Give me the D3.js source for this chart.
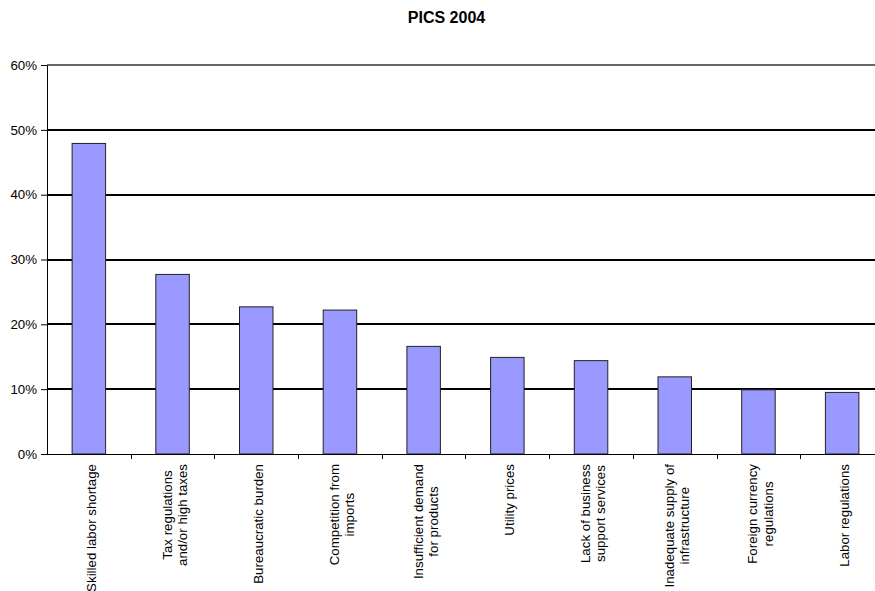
<!DOCTYPE html>
<html>
<head>
<meta charset="utf-8">
<script src="https://cdn.jsdelivr.net/npm/d3@7"></script>
<style>
  html, body { margin: 0; padding: 0; background: #fff; }
  svg { display: block; font-family: Arial, "Liberation Sans", sans-serif; }
</style>
</head>
<body>
<svg id="chart" width="875" height="591"></svg>
<script>
// Chart data
const title = "PICS 2004";
const categories = [
  "Skilled labor shortage",
  "Tax regulations and/or high taxes",
  "Bureaucratic burden",
  "Competition from imports",
  "Insufficient demand for products",
  "Utility prices",
  "Lack of business support services",
  "Inadequate supply of infrastructure",
  "Foreign currency regulations",
  "Labor regulations"
];
// Wrapped category labels as drawn under the axis
const categoryLines = [
  ["Skilled labor shortage"],
  ["Tax regulations", "and/or high taxes"],
  ["Bureaucratic burden"],
  ["Competition from", "imports"],
  ["Insufficient demand", "for products"],
  ["Utility prices"],
  ["Lack of business", "support services"],
  ["Inadequate supply of", "infrastructure"],
  ["Foreign currency", "regulations"],
  ["Labor regulations"]
];
const values = [0.479, 0.277, 0.227, 0.222, 0.166, 0.149, 0.144, 0.119, 0.099, 0.095];
const yTicks = [0, 0.1, 0.2, 0.3, 0.4, 0.5, 0.6];

const svg = d3.select("#chart");
const W = 875, H = 591;
const plot = { left: 47, right: 884, top: 65, bottom: 454 };

const x = d3.scaleBand()
  .domain(categories)
  .range([plot.left, plot.right])
  .paddingInner(0.6)
  .paddingOuter(0.3);

const y = d3.scaleLinear()
  .domain([0, 0.6])
  .range([plot.bottom, plot.top]);

// Title
svg.append("text")
  .attr("x", 446.5)
  .attr("y", 23)
  .attr("text-anchor", "middle")
  .attr("font-size", "16px")
  .attr("font-weight", "bold")
  .attr("fill", "#000")
  .text(title);

// Horizontal gridlines
svg.append("g")
  .selectAll("line")
  .data(yTicks.filter(d => d > 0))
  .join("line")
  .attr("x1", plot.left)
  .attr("x2", W)
  .attr("y1", d => Math.round(y(d)))
  .attr("y2", d => Math.round(y(d)))
  .attr("stroke", d => d === 0.6 ? "#333" : "#000")
  .attr("stroke-width", d => d === 0.6 ? 1.5 : 2);

// Bars
svg.append("g")
  .selectAll("rect")
  .data(values)
  .join("rect")
  .attr("x", (d, i) => x(categories[i]))
  .attr("y", d => y(d))
  .attr("width", x.bandwidth())
  .attr("height", d => y(0) - y(d))
  .attr("fill", "#9999FF")
  .attr("stroke", "#222")
  .attr("stroke-width", 1);

// Y axis
const yAxis = svg.append("g")
  .attr("transform", `translate(${plot.left},0)`)
  .call(d3.axisLeft(y)
    .tickValues(yTicks)
    .tickFormat(d3.format(".0%"))
    .tickSize(6)
    .tickSizeOuter(0)
    .tickPadding(4));
yAxis.select(".domain").attr("stroke", "#000");
yAxis.selectAll(".tick line").attr("stroke", "#000");
yAxis.selectAll(".tick text")
  .attr("font-size", "13.3px")
  .attr("font-family", "Arial, 'Liberation Sans', sans-serif")
  .attr("fill", "#000");

// X axis baseline and category separator ticks
const step = x.step();
const boundaries = categories.map(c => x(c) - step * 0.3).concat([x(categories[categories.length - 1]) + x.bandwidth() + step * 0.3]);
svg.append("line")
  .attr("x1", plot.left)
  .attr("x2", W)
  .attr("y1", y(0) + 0.5)
  .attr("y2", y(0) + 0.5)
  .attr("stroke", "#000")
  .attr("stroke-width", 1);
svg.append("g")
  .selectAll("line")
  .data(boundaries.slice(1))
  .join("line")
  .attr("x1", d => Math.round(d) + 0.5)
  .attr("x2", d => Math.round(d) + 0.5)
  .attr("y1", y(0))
  .attr("y2", y(0) + 5)
  .attr("stroke", "#000");

// Rotated category labels, top-aligned under the axis, lines centred on each other
const labelTop = 464;
const lineH = 15.4;
const labels = svg.append("g")
  .attr("font-size", "13.3px")
  .attr("fill", "#000");

categoryLines.forEach((lines, i) => {
  const cx = x(categories[i]) + x.bandwidth() / 2 + 2;
  const t = labels.append("text").attr("text-anchor", "middle");
  lines.forEach((ln, j) => {
    t.append("tspan")
      .attr("x", 0)
      .attr("y", (j - (lines.length - 1) / 2) * lineH)
      .attr("dy", "0.35em")
      .text(ln);
  });
  let maxLen = 0;
  t.selectAll("tspan").each(function () {
    maxLen = Math.max(maxLen, this.getComputedTextLength());
  });
  t.attr("transform", `translate(${cx},${labelTop + maxLen / 2}) rotate(-90)`);
});
</script>
</body>
</html>
